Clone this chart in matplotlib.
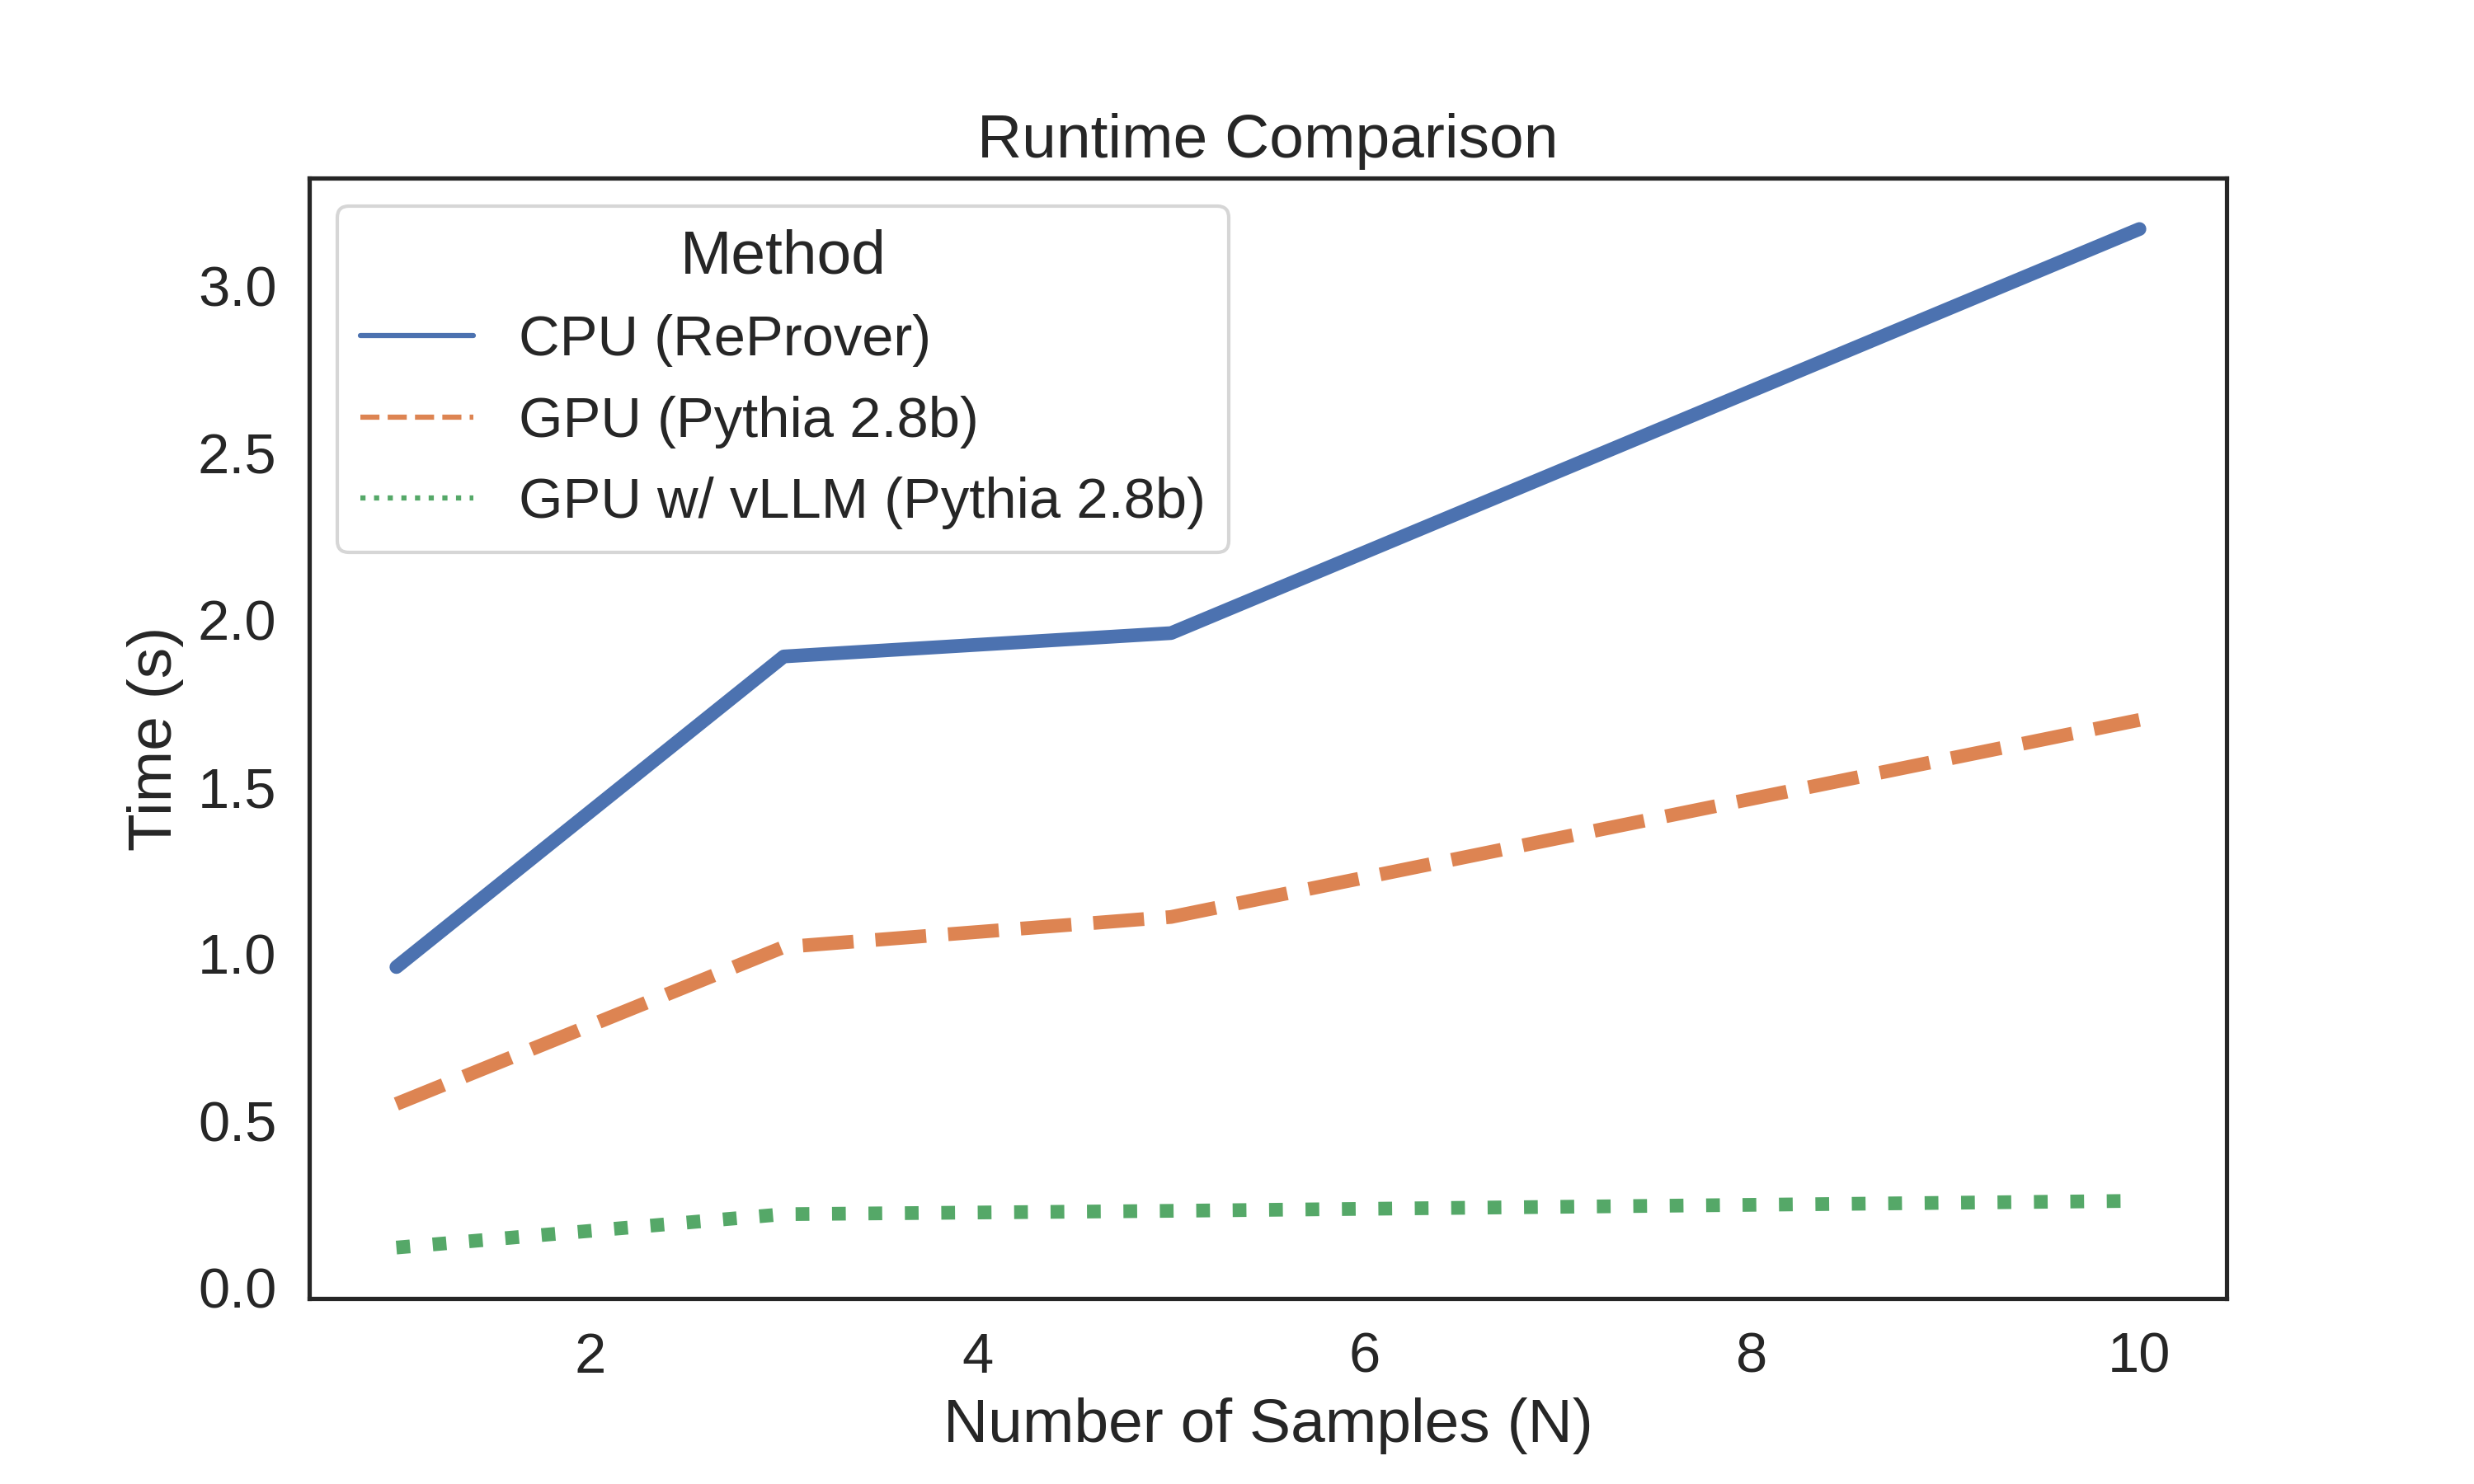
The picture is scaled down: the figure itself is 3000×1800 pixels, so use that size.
import matplotlib
matplotlib.use("Agg")
import matplotlib.pyplot as plt
import seaborn as sns
from matplotlib.lines import Line2D

sns.set_theme(style="white", font_scale=1.5)
plt.rcParams["font.family"] = ["Liberation Sans", "DejaVu Sans"]

# --- data ---
n_samples = [1, 3, 5, 10]
cpu_time = [0.96, 1.89, 1.96, 3.17]
gpu_time = [0.55, 1.02, 1.11, 1.70]
vllm_time = [0.12, 0.22, 0.23, 0.26]

labels = ["CPU (ReProver)", "GPU (Pythia 2.8b)", "GPU w/ vLLM (Pythia 2.8b)"]
colors = sns.color_palette("deep")[:3]
styles = ["-", "--", ":"]

fig, ax = plt.subplots(figsize=(10, 6))
fig.subplots_adjust(left=0.125, right=0.9, top=0.88, bottom=0.125)

for y, lab, c, ls in zip([cpu_time, gpu_time, vllm_time], labels, colors, styles):
    ax.plot(n_samples, y, color=c, linestyle=ls, linewidth=4, label=lab)

ax.set_title("Runtime Comparison")
ax.set_xlabel("Number of Samples (N)")
ax.set_ylabel("Time (s)")
ax.set_yticks([0.0, 0.5, 1.0, 1.5, 2.0, 2.5, 3.0])

handles = [Line2D([0], [0], color=c, linestyle=ls, linewidth=1.5)
           for c, ls in zip(colors, styles)]
ax.legend(handles, labels, title="Method", loc="upper left")

fig.savefig("out.png", dpi=300)
